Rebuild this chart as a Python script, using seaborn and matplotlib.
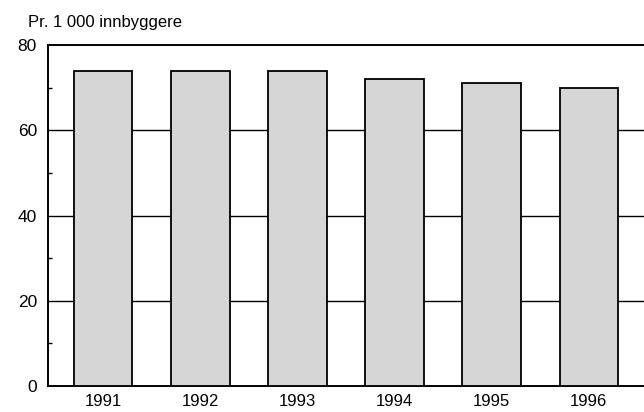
import matplotlib
matplotlib.use('Agg')
import matplotlib.pyplot as plt
from matplotlib.ticker import MultipleLocator
import seaborn as sns

years = ['1991', '1992', '1993', '1994', '1995', '1996']
rate = [74, 74, 74, 72, 71, 70]

sns.set_style('white')
plt.rcParams['font.family'] = ['Liberation Sans', 'DejaVu Sans']
plt.rcParams['text.color'] = 'black'
plt.rcParams['xtick.color'] = 'black'
plt.rcParams['ytick.color'] = 'black'

fig = plt.figure(figsize=(6.44, 4.12), dpi=100)
ax = fig.add_axes([48 / 644, 26 / 412, 1 - 48 / 644, 341 / 412])

sns.barplot(x=years, y=rate, color='#d6d6d6', edgecolor='black',
            linewidth=1.3, width=0.6, saturation=1, ax=ax, zorder=3)

ax.set_ylim(0, 80)
ax.set_xlim(-0.57, 5.57)
ax.yaxis.set_major_locator(MultipleLocator(20))
ax.yaxis.set_minor_locator(MultipleLocator(10))
ax.tick_params(axis='y', which='major', length=0, pad=8, labelsize=12.5)
ax.tick_params(axis='y', which='minor', direction='in', length=3, width=1, left=True)
ax.tick_params(axis='x', length=0, pad=6, labelsize=12)

for v in [20, 40, 60]:
    ax.axhline(v, color='black', linewidth=1, zorder=1)

for s in ['left', 'bottom', 'top']:
    ax.spines[s].set_color('black')
    ax.spines[s].set_linewidth(1.4)
ax.spines['right'].set_visible(False)

ax.set_xlabel('')
ax.set_ylabel('')
fig.text(28 / 644, 1 - 22 / 412, 'Pr. 1 000 innbyggere', fontsize=12, va='center', ha='left')

fig.savefig('out.png', dpi=100)
